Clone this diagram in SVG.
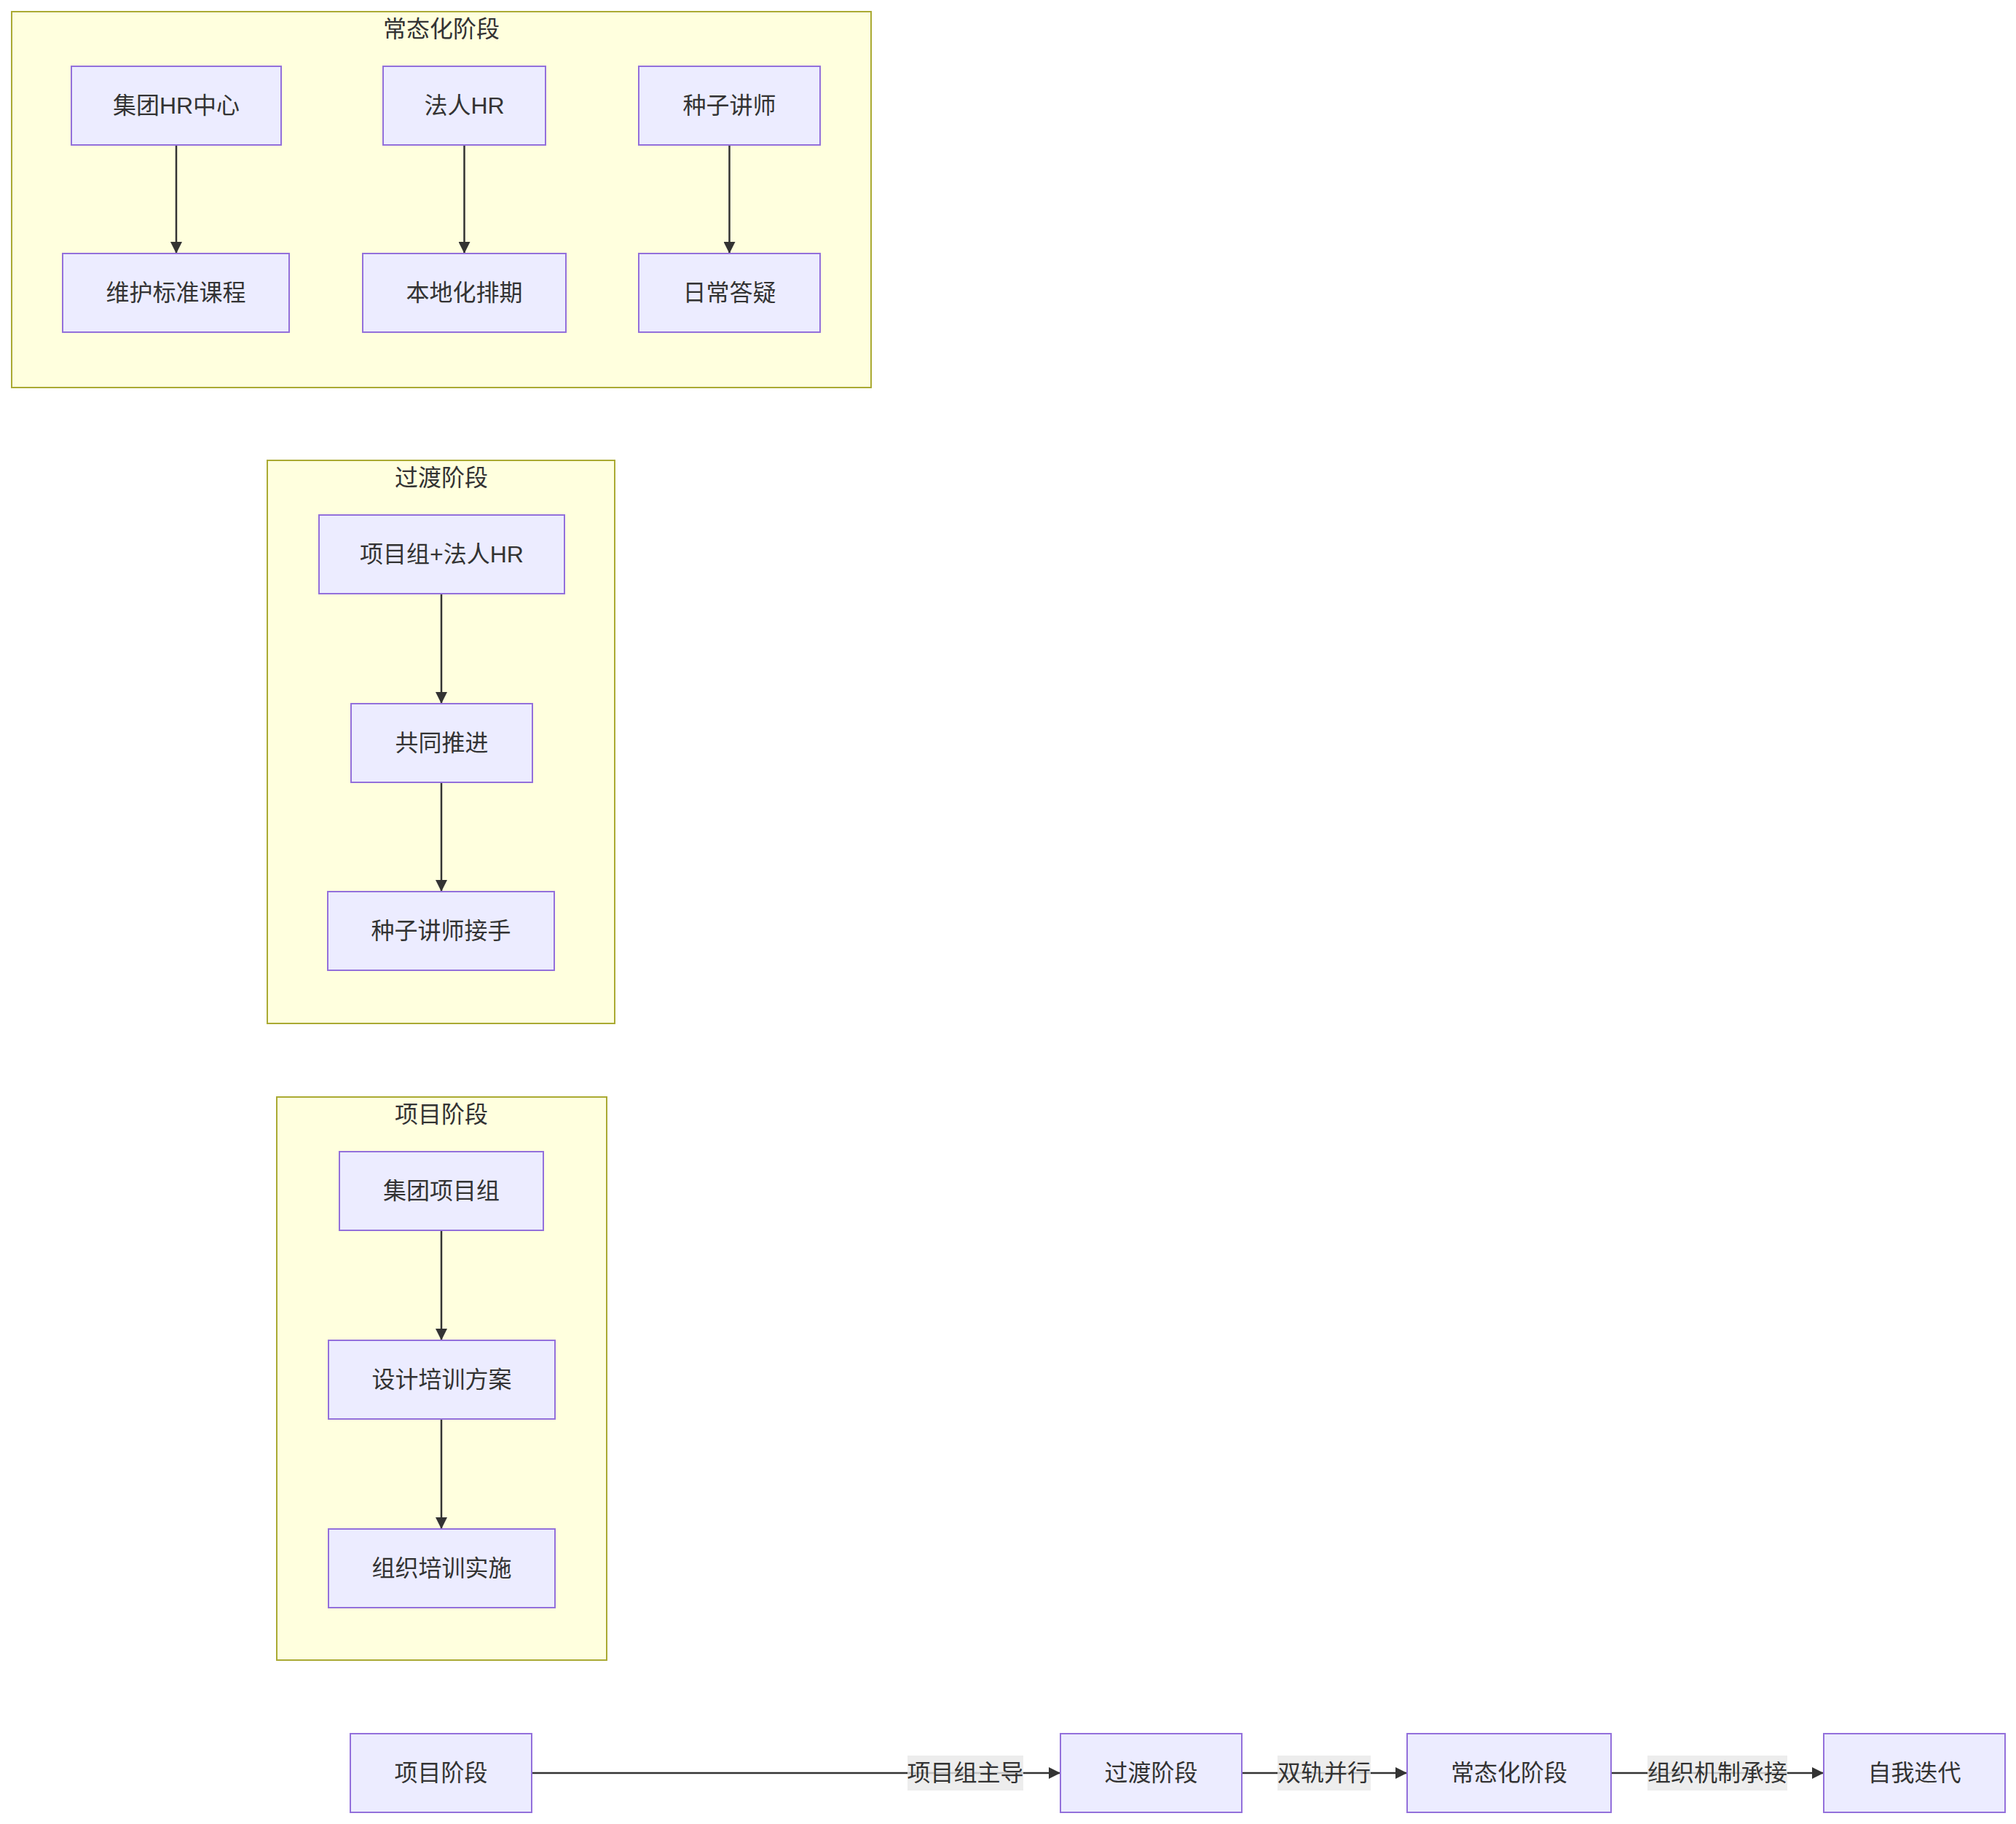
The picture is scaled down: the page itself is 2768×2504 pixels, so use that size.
<svg xmlns="http://www.w3.org/2000/svg" width="2768" height="2504" viewBox="0 0 2768 2504">
<defs>
<style>
.cluster{fill:#ffffde;stroke:#aaaa33;stroke-width:2}
.node rect{fill:#ececff;stroke:#9370db;stroke-width:2}
text{font-family:"Liberation Sans","Noto Sans CJK SC",sans-serif;font-size:32px;fill:#333333;text-anchor:middle;dominant-baseline:central}
.edge{stroke:#333333;stroke-width:2.5;fill:none}
.lbl{fill:#e8e8e8;fill-opacity:0.8}
</style>
<marker id="arr" markerUnits="userSpaceOnUse" viewBox="0 0 10 10" refX="10" refY="5" markerWidth="16" markerHeight="16" orient="auto">
<path d="M0,0 L10,5 L0,10 z" fill="#333333"/>
</marker>
</defs>
<rect width="2768" height="2504" fill="#ffffff"/>

<g id="cluster-normal">
<rect class="cluster" x="16" y="16" width="1180" height="516"/>
<text x="606" y="40">常态化阶段</text>
</g>
<g id="cluster-transition">
<rect class="cluster" x="367" y="632" width="477" height="773"/>
<text x="606" y="656">过渡阶段</text>
</g>
<g id="cluster-project">
<rect class="cluster" x="380" y="1506" width="453" height="773"/>
<text x="606" y="1530">项目阶段</text>
</g>

<g id="connectors">
<line class="edge" x1="242" y1="199" x2="242" y2="348" marker-end="url(#arr)"/>
<line class="edge" x1="637.5" y1="199" x2="637.5" y2="348" marker-end="url(#arr)"/>
<line class="edge" x1="1001.5" y1="199" x2="1001.5" y2="348" marker-end="url(#arr)"/>
<line class="edge" x1="606" y1="815" x2="606" y2="966" marker-end="url(#arr)"/>
<line class="edge" x1="606" y1="1074" x2="606" y2="1224" marker-end="url(#arr)"/>
<line class="edge" x1="606" y1="1689" x2="606" y2="1840" marker-end="url(#arr)"/>
<line class="edge" x1="606" y1="1948" x2="606" y2="2099" marker-end="url(#arr)"/>
<line class="edge" x1="730" y1="2434" x2="1456" y2="2434" marker-end="url(#arr)"/>
<line class="edge" x1="1705" y1="2434" x2="1932" y2="2434" marker-end="url(#arr)"/>
<line class="edge" x1="2212" y1="2434" x2="2504" y2="2434" marker-end="url(#arr)"/>
<rect class="lbl" x="1246" y="2410" width="159" height="48"/>
<text x="1325.5" y="2434">项目组主导</text>
<rect class="lbl" x="1754" y="2410" width="128" height="48"/>
<text x="1818" y="2434">双轨并行</text>
<rect class="lbl" x="2262" y="2410" width="192" height="48"/>
<text x="2358" y="2434">组织机制承接</text>
</g>

<g id="n-group-hr" class="node"><rect x="98" y="91" width="288" height="108"/><text x="242" y="145">集团HR中心</text></g>
<g id="n-legal-hr" class="node"><rect x="526" y="91" width="223" height="108"/><text x="637.5" y="145">法人HR</text></g>
<g id="n-seed" class="node"><rect x="877" y="91" width="249" height="108"/><text x="1001.5" y="145">种子讲师</text></g>
<g id="n-maintain" class="node"><rect x="86" y="348" width="311" height="108"/><text x="241.5" y="402">维护标准课程</text></g>
<g id="n-local" class="node"><rect x="498" y="348" width="279" height="108"/><text x="637.5" y="402">本地化排期</text></g>
<g id="n-daily" class="node"><rect x="877" y="348" width="249" height="108"/><text x="1001.5" y="402">日常答疑</text></g>

<g id="n-team-hr" class="node"><rect x="438" y="707" width="337" height="108"/><text x="606.5" y="761">项目组+法人HR</text></g>
<g id="n-joint" class="node"><rect x="482" y="966" width="249" height="108"/><text x="606.5" y="1020">共同推进</text></g>
<g id="n-takeover" class="node"><rect x="450" y="1224" width="311" height="108"/><text x="605.5" y="1278">种子讲师接手</text></g>

<g id="n-group-team" class="node"><rect x="466" y="1581" width="280" height="108"/><text x="606" y="1635">集团项目组</text></g>
<g id="n-design" class="node"><rect x="451" y="1840" width="311" height="108"/><text x="606.5" y="1894">设计培训方案</text></g>
<g id="n-implement" class="node"><rect x="451" y="2099" width="311" height="108"/><text x="606.5" y="2153">组织培训实施</text></g>

<g id="n-stage-project" class="node"><rect x="481" y="2380" width="249" height="108"/><text x="605.5" y="2434">项目阶段</text></g>
<g id="n-stage-transition" class="node"><rect x="1456" y="2380" width="249" height="108"/><text x="1580.5" y="2434">过渡阶段</text></g>
<g id="n-stage-normal" class="node"><rect x="1932" y="2380" width="280" height="108"/><text x="2072" y="2434">常态化阶段</text></g>
<g id="n-stage-iter" class="node"><rect x="2504" y="2380" width="249" height="108"/><text x="2628.5" y="2434">自我迭代</text></g>
</svg>
